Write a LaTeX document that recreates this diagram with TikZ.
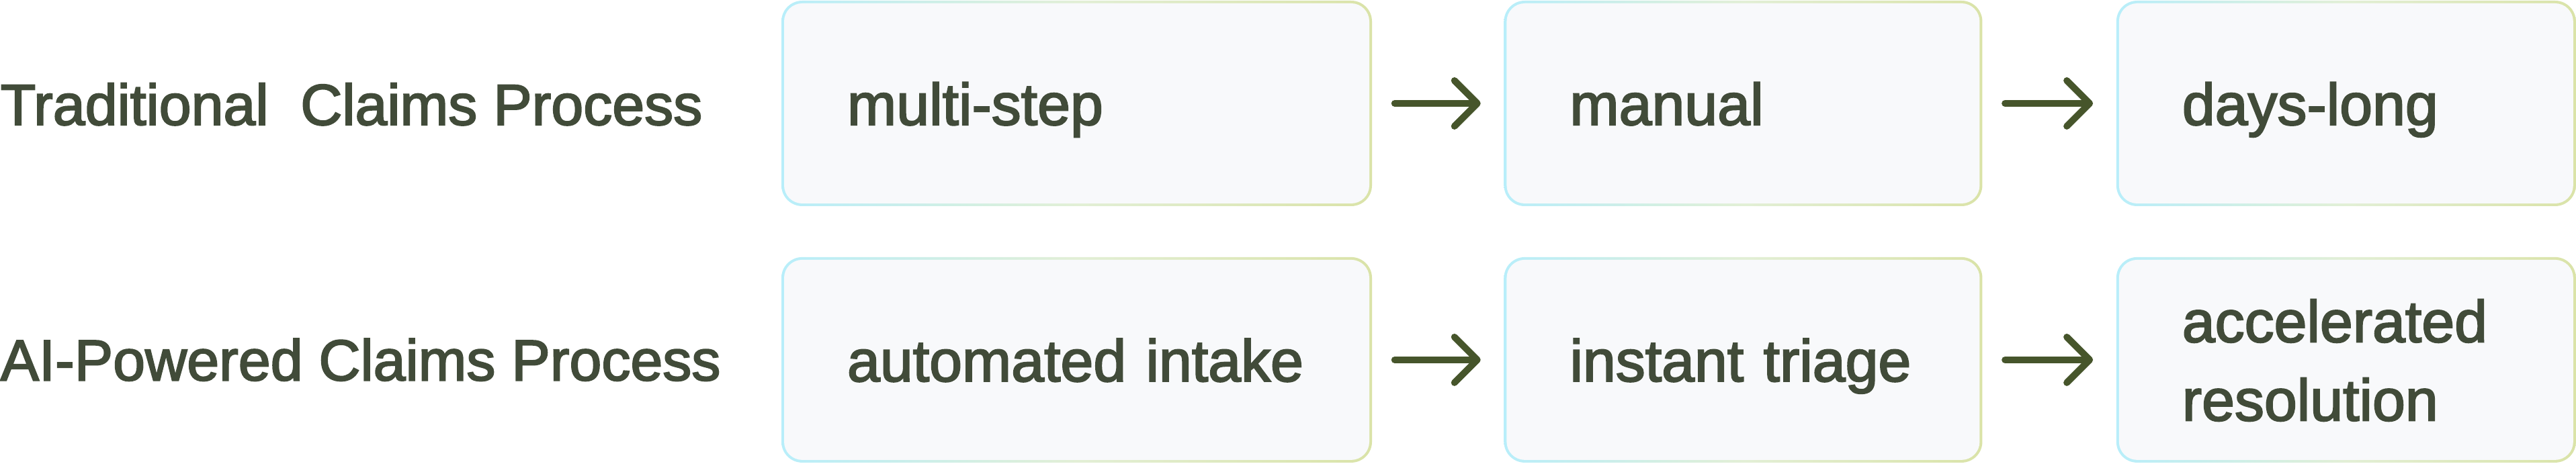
\documentclass[tikz,border=0pt]{standalone}
\usepackage{fontspec}
\setmainfont{Liberation Sans}[RawFeature={embolden=2.4}]
\usetikzlibrary{positioning,arrows.meta}

\definecolor{txt}{HTML}{414B39}
\definecolor{pfeil}{HTML}{46552B}
\definecolor{kasten}{HTML}{F8F9FB}
\definecolor{randl}{HTML}{B8EEFA}
\definecolor{randm}{HTML}{E2EFD6}
\definecolor{randr}{HTML}{DAE3A8}

\tikzset{
  box/.style={rounded corners=0.31cm, minimum height=3.06cm, inner xsep=0.98cm, inner ysep=0pt,
    text width=#1, align=left, text height=0.7cm, text depth=0.06cm, text=txt,
    font=\fontsize{25}{33.3}\selectfont,
    path picture={
      \shade[left color=randl, right color=randr, middle color=randm]
        (path picture bounding box.south west) rectangle (path picture bounding box.north east);
      \fill[kasten, rounded corners=0.27cm]
        ([shift={(0.04,0.04)}]path picture bounding box.south west) rectangle
        ([shift={(-0.04,-0.04)}]path picture bounding box.north east);
    }},
  rowlabel/.style={anchor=west, inner sep=0pt, text height=0.7cm, text depth=0.06cm, text=txt,
    font=\fontsize{24.5}{30}\selectfont},
  flow/.style={pfeil, line width=0.1cm, line cap=round,
    -{Straight Barb[length=0.34cm,width=0.68cm,round]}, shorten <=0.33cm, shorten >=0.34cm}
}

\begin{document}
\begin{tikzpicture}
  \useasboundingbox (0,0) rectangle (38.34,6.90);

  % alt
  \node[rowlabel] (trad) at (0,5.36) {Traditional\ \ Claims Process};
  \node[box=6.83cm] (multi) at (16.025,5.36) {multi-step};
  \node[box=5.16cm, right=1.95cm of multi] (manual) {manual};
  \node[box=4.88cm, right=1.98cm of manual] (days) {days-long};

  % neu
  \node[rowlabel] (ai) at (0,1.555) {AI-Powered Claims Process};
  \node[box=6.83cm, below=0.745cm of multi] (intake) {automated intake};
  \node[box=5.16cm, below=0.745cm of manual] (triage) {instant triage};
  \node[box=4.88cm, text depth=1.23cm, below=0.745cm of days] (resol) {accelerated\\resolution};

  \draw[flow] (multi) -- (manual);
  \draw[flow] (manual) -- (days);
  \draw[flow] (intake) -- (triage);
  \draw[flow] (triage) -- (resol);
\end{tikzpicture}
\end{document}
